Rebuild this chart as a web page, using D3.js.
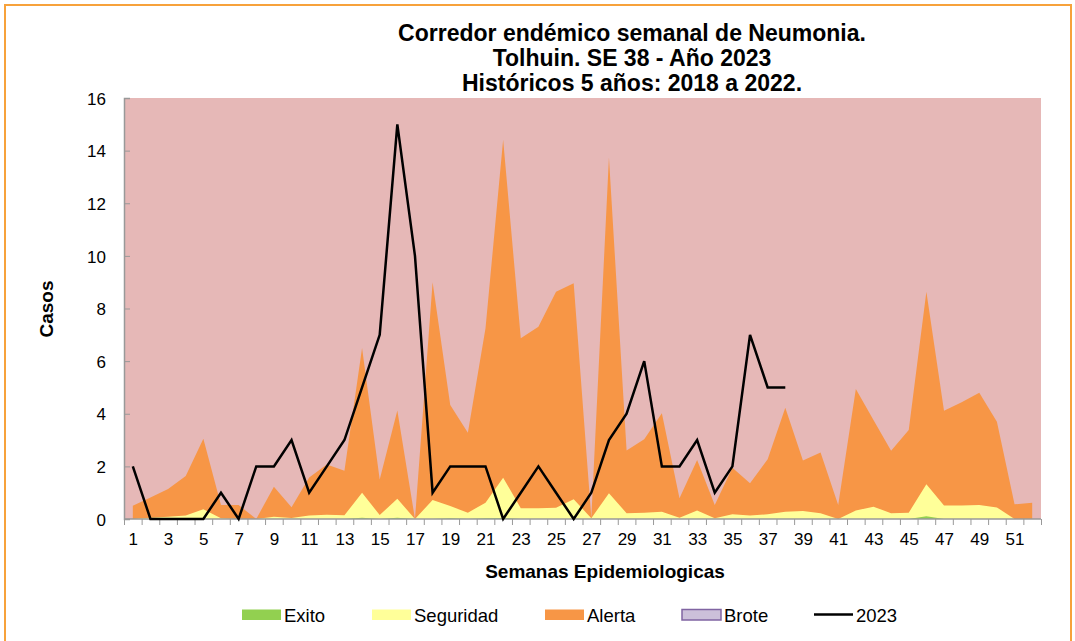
<!DOCTYPE html>
<html>
<head>
<meta charset="utf-8">
<script src="https://cdn.jsdelivr.net/npm/d3@7"></script>
<style>
  body { margin: 0; background: #fff; }
  text { font-family: "Liberation Sans", Arial, sans-serif; }
</style>
</head>
<body>
<div class="chart-div"></div>
<script>
var width = 1075;
var height = 641;

// semanas epidemiologicas
var weeks = d3.range(1, 53);
var weekLabels = d3.range(1, 53, 2);

// limites superiores de cada zona del corredor (casos)
var exito = [0, 0, 0, 0, 0, 0, 0, 0, 0, 0, 0, 0, 0, 0.05, 0, 0.05, 0, 0, 0.03, 0,
    0.03, 0.04, 0, 0, 0, 0, 0, 0, 0, 0, 0, 0, 0, 0, 0, 0, 0, 0, 0, 0,
    0, 0, 0, 0, 0, 0.1, 0, 0, 0, 0, 0, 0];
var seguridad = [0, 0.05, 0.09, 0.13, 0.37, 0.03, 0, 0, 0.09, 0.04, 0.13, 0.16, 0.14, 1.0, 0.15, 0.77, 0, 0.72, 0.49, 0.24,
    0.62, 1.57, 0.41, 0.41, 0.43, 0.75, 0.03, 0.98, 0.22, 0.24, 0.28, 0.05, 0.32, 0.03, 0.18, 0.13, 0.18, 0.28, 0.3, 0.22,
    0, 0.32, 0.47, 0.22, 0.24, 1.32, 0.51, 0.51, 0.53, 0.44, 0, 0];
var alerta = [0.5, 0.82, 1.14, 1.63, 3.05, 0.53, 0.53, 0, 1.23, 0.45, 1.58, 2.07, 1.83, 6.5, 1.5, 4.12, 0, 9.0, 4.33, 3.28,
    7.25, 14.41, 6.87, 7.31, 8.64, 8.96, 0.05, 13.74, 2.6, 3.03, 4.02, 0.79, 2.24, 0.53, 1.95, 1.36, 2.27, 4.23, 2.22, 2.53,
    0.53, 4.94, 3.76, 2.59, 3.38, 8.64, 4.11, 4.44, 4.8, 3.7, 0.56, 0.62];
// casos 2023 hasta SE 38
var casos2023 = [2, 0, 0, 0, 0, 1, 0, 2, 2, 3, 1, 2, 3, 5, 7, 15, 10, 1, 2, 2,
    2, 0, 1, 2, 1, 0, 1, 3, 4, 6, 2, 2, 3, 1, 2, 7, 5, 5];

var yTicks = d3.range(0, 17, 2);

var legendNames = ["Exito", "Seguridad", "Alerta", "Brote", "2023"];
var legendX = [242, 372, 545, 682, 814];

var colBrote = "#e6b8b7";
var colAlerta = "#f79646";
var colSeg = "#ffff99";
var colExito = "#92d050";

var svg = d3.select("div.chart-div")
    .append("svg")
    .attr("width", width)
    .attr("height", height)

// marco exterior
svg.append("rect")
    .attr("x", 5)
    .attr("y", 5)
    .attr("width", 1066)
    .attr("height", 660)
    .attr("fill", "none")
    .attr("stroke", "#f7a23b")
    .attr("stroke-width", 2)

var plotLeft = 124, plotRight = 1041, plotTop = 98, plotBottom = 519;

var x = d3.scaleLinear().domain([0.5, 52.5]).range([plotLeft, plotRight]);
var y = d3.scaleLinear().domain([0, 16]).range([plotBottom, plotTop]);

// fondo del area de trazado (zona de brote)
svg.append("rect")
    .attr("x", plotLeft)
    .attr("y", plotTop)
    .attr("width", plotRight - plotLeft)
    .attr("height", plotBottom - plotTop)
    .attr("fill", colBrote)

function band(values) {
    return d3.area()
        .x(function (d, i) { return x(weeks[i]); })
        .y0(y(0))
        .y1(function (d) { return y(d); })(values);
}

var g = svg.append("g")

g.append("path").attr("d", band(alerta)).attr("fill", colAlerta)
g.append("path").attr("d", band(seguridad)).attr("fill", colSeg)
g.append("path").attr("d", band(exito)).attr("fill", colExito)

// eje Y
var yAxis = svg.append("g")
    .attr("transform", "translate(" + plotLeft + ",0)")
    .call(d3.axisLeft(y).tickValues(yTicks).tickSize(-6).tickPadding(18))
yAxis.select(".domain").attr("stroke", "#999").attr("stroke-width", 1.5)
yAxis.selectAll(".tick line").attr("stroke", "#999")
yAxis.selectAll(".tick text")
    .attr("font-size", 17)
    .attr("fill", "#000")
    .attr("dy", "0.36em")
    .attr("font-family", "Liberation Sans, Arial, sans-serif")

// eje X: marcas entre categorias
var xTicks = svg.append("g")
    .attr("transform", "translate(0," + plotBottom + ")")
    .call(d3.axisBottom(x).tickValues(d3.range(0.5, 53, 1)).tickSize(6).tickFormat(""))
xTicks.select(".domain").remove()
xTicks.selectAll(".tick line").attr("stroke", "#999")

svg.append("line")
    .attr("x1", plotLeft)
    .attr("x2", plotRight)
    .attr("y1", plotBottom)
    .attr("y2", plotBottom)
    .attr("stroke", "#999")
    .attr("stroke-width", 1.5)

var xLabels = svg.append("g")
    .attr("transform", "translate(0," + plotBottom + ")")
    .call(d3.axisBottom(x).tickValues(weekLabels).tickSize(0).tickPadding(14))
xLabels.select(".domain").remove()
xLabels.selectAll(".tick text")
    .attr("font-size", 17)
    .attr("fill", "#000")
    .attr("font-family", "Liberation Sans, Arial, sans-serif")

// linea 2023
svg.append("path")
    .datum(casos2023)
    .attr("d", d3.line()
        .x(function (d, i) { return x(weeks[i]); })
        .y(function (d) { return y(d); }))
    .attr("fill", "none")
    .attr("stroke", "#000")
    .attr("stroke-width", 2.5)
    .attr("stroke-linejoin", "miter")

// titulos
var titleLines = ["Corredor endémico semanal de Neumonia.", "Tolhuin. SE 38 - Año 2023", "Históricos 5 años: 2018 a 2022."];
var titleY = [41, 66, 91];
for (var k = 0; k < titleLines.length; k++) {
    svg.append("text")
        .attr("x", 632)
        .attr("y", titleY[k])
        .attr("text-anchor", "middle")
        .attr("font-size", 23)
        .attr("font-weight", "bold")
        .text(titleLines[k])
}

svg.append("text")
    .attr("x", 605)
    .attr("y", 578)
    .attr("text-anchor", "middle")
    .attr("font-size", 19)
    .attr("font-weight", "bold")
    .text("Semanas Epidemiologicas")

svg.append("text")
    .attr("transform", "translate(53,309) rotate(-90)")
    .attr("text-anchor", "middle")
    .attr("font-size", 19)
    .attr("font-weight", "bold")
    .text("Casos")

// leyenda
var legendFill = [colExito, colSeg, colAlerta, "#ccc0da"];
var lg = svg.append("g")
for (var k = 0; k < legendNames.length; k++) {
    if (k < 4) {
        lg.append("rect")
            .attr("x", legendX[k])
            .attr("y", 609.5)
            .attr("width", 39)
            .attr("height", 10.5)
            .attr("fill", legendFill[k])
            .attr("stroke", k == 3 ? "#8064a2" : "none")
            .attr("stroke-width", 1.5)
    } else {
        lg.append("line")
            .attr("x1", legendX[k])
            .attr("x2", legendX[k] + 39)
            .attr("y1", 614.5)
            .attr("y2", 614.5)
            .attr("stroke", "#000")
            .attr("stroke-width", 2.5)
    }
    lg.append("text")
        .attr("x", legendX[k] + 42)
        .attr("y", 621.5)
        .attr("font-size", 18.5)
        .text(legendNames[k])
}
</script>
</body>
</html>
